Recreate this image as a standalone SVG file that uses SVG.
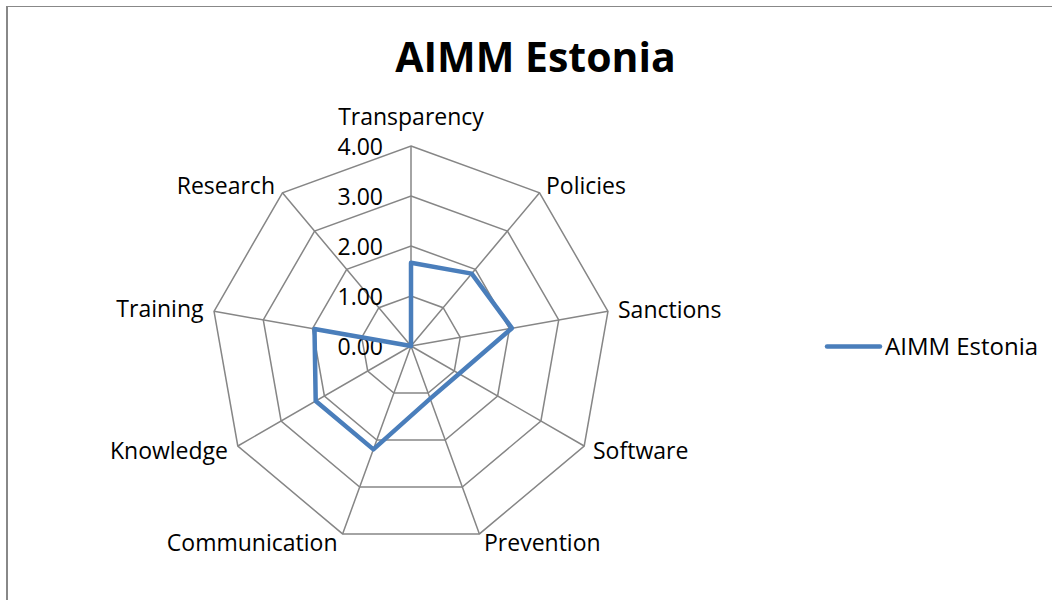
<svg xmlns="http://www.w3.org/2000/svg" width="1052" height="600" viewBox="0 0 1052 600">
<style>
.t{font-family:"Open Sans","Liberation Sans",sans-serif;font-size:23px;fill:#000}
.grid{fill:none;stroke:#868686;stroke-width:1.5}
.series{fill:none;stroke:#4a7ebb;stroke-width:4.5;stroke-linejoin:round;stroke-linecap:round}
</style>
<rect x="0" y="0" width="1052" height="600" fill="#fff"/>
<g id="frame">
<line x1="7" y1="6" x2="7" y2="600" stroke="#888" stroke-width="2"/>
<line x1="6" y1="6.5" x2="1052" y2="6.5" stroke="#888" stroke-width="1"/>
</g>
<g id="title"><text x="535.5" y="72" text-anchor="middle" style="font-family:'Open Sans','Liberation Sans',sans-serif;font-size:41px;font-weight:bold">AIMM Estonia</text></g>
<g id="grid" class="grid">
<polygon points="411,146 539.56,192.8 607.96,311.28 584.2,446 479.4,533.94 342.6,533.94 237.8,446 214.04,311.28 282.44,192.8"/>
<polygon points="411,196 507.42,231.1 558.72,319.96 540.9,421 462.3,486.96 359.7,486.96 281.1,421 263.28,319.96 314.58,231.1"/>
<polygon points="411,246 475.28,269.4 509.48,328.64 497.6,396 445.2,439.97 376.8,439.97 324.4,396 312.52,328.64 346.72,269.4"/>
<polygon points="411,296 443.14,307.7 460.24,337.32 454.3,371 428.1,392.98 393.9,392.98 367.7,371 361.76,337.32 378.86,307.7"/>
<path d="M411,346L411,146M411,346L539.56,192.8M411,346L607.96,311.28M411,346L584.2,446M411,346L479.4,533.94M411,346L342.6,533.94M411,346L237.8,446M411,346L214.04,311.28M411,346L282.44,192.8"/>
</g>
<g id="ticks" class="t" text-anchor="end">
<text x="383" y="155">4.00</text>
<text x="383" y="204.5">3.00</text>
<text x="383" y="254.5">2.00</text>
<text x="383" y="304.5">1.00</text>
<text x="383" y="355">0.00</text>
</g>
<g id="axis-labels" class="t">
<text id="lbl-transparency" x="411" y="125" text-anchor="middle">Transparency</text>
<text id="lbl-policies" x="546" y="194">Policies</text>
<text id="lbl-sanctions" x="618" y="317.5">Sanctions</text>
<text id="lbl-software" x="593" y="458.5">Software</text>
<text id="lbl-prevention" x="484" y="550.5">Prevention</text>
<text id="lbl-communication" x="337.5" y="550.5" text-anchor="end">Communication</text>
<text id="lbl-knowledge" x="228" y="459" text-anchor="end">Knowledge</text>
<text id="lbl-training" x="203.5" y="317" text-anchor="end">Training</text>
<text id="lbl-research" x="275" y="193.5" text-anchor="end">Research</text>
</g>
<g id="connectors">
<polygon class="series" points="411,262.7 471.7,273.6 511.9,328.2 459.1,373.75 430.2,398.6 373.4,449.4 315.7,401 314.5,329 411,346"/>
</g>
<g id="legend">
<line x1="827" y1="346.5" x2="880" y2="346.5" stroke="#4a7ebb" stroke-width="4.5" stroke-linecap="round"/>
<text class="t" x="885" y="354.5" style="font-size:24px">AIMM Estonia</text>
</g>
</svg>
